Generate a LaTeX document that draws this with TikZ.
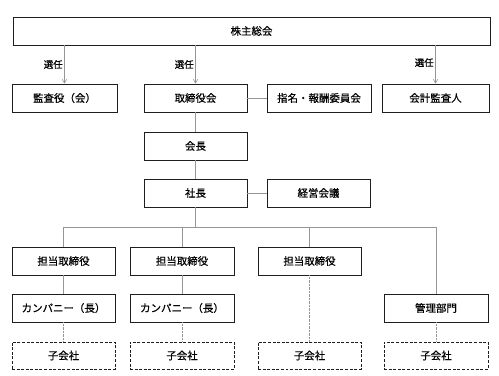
\documentclass[tikz,border=0pt]{standalone}
\usepackage{fontspec}
\newfontfamily\jpfont[FakeBold=0.6]{Noto Sans CJK JP}
\usepackage{tikz}
\usetikzlibrary{arrows.meta,positioning,calc}
\definecolor{linegray}{RGB}{150,150,150}
\definecolor{boxline}{RGB}{30,30,30}
\tikzset{
  orgbox/.style={draw=boxline,line width=0.9pt,fill=white,
    minimum width=103bp,minimum height=28bp,inner sep=0pt,align=center,
    font=\jpfont\fontsize{10.5}{12}\selectfont},
  subbox/.style={orgbox,dashed,dash pattern=on 3pt off 1.6pt,minimum height=27bp},
  selarrow/.style={-{Straight Barb[length=1.3mm,width=1.6mm]},draw=linegray,line width=0.6pt},
  orgline/.style={draw=linegray,line width=0.6pt},
  dotline/.style={draw=linegray,line width=0.6pt,dash pattern=on 0.7pt off 0.7pt},
  sellabel/.style={left,inner sep=1.5pt,font=\jpfont\fontsize{9.5}{11}\selectfont},
}
\begin{document}
\begin{tikzpicture}[x=1bp,y=-1bp]
        \useasboundingbox (0,0) rectangle (499,375);
        % general meeting and boards
        \node[orgbox,minimum width=477bp] (meeting) at (251.5,31) {株主総会};
        \node[orgbox,minimum width=105bp] (auditors) at (64.5,98) {監査役（会）};
        \node[orgbox] (board) at (195.5,98) {取締役会};
        \node[orgbox,minimum width=104bp] (nomination) at (319,98) {指名・報酬委員会};
        \node[orgbox,minimum width=107bp] (accountant) at (435.5,98) {会計監査人};
        \node[orgbox] (chairman) at (195.5,146) {会長};
        \node[orgbox] (president) at (195.5,193) {社長};
        \node[orgbox] (council) at (318.5,193) {経営会議};
        % divisions
        \node[orgbox] (director1) at (63.5,261) {担当取締役};
        \node[orgbox,minimum width=104bp] (director2) at (182,261) {担当取締役};
        \node[orgbox] (director3) at (309.5,261) {担当取締役};
        \node[orgbox] (company1) at (63.5,308) {カンパニー（長）};
        \node[orgbox,minimum width=104bp] (company2) at (182,308) {カンパニー（長）};
        \node[orgbox,minimum width=104bp] (admin) at (436,308) {管理部門};
        \node[subbox] (sub1) at (63.5,355.5) {子会社};
        \node[subbox,minimum width=104bp] (sub2) at (182,355.5) {子会社};
        \node[subbox] (sub3) at (309.5,355.5) {子会社};
        \node[subbox,minimum width=104bp] (sub4) at (436,355.5) {子会社};
        \coordinate (bus) at (0,227);
        % election arrows
        \draw[selarrow] (meeting.south -| auditors) -- node[sellabel] {選任} (auditors);
        \draw[selarrow] (meeting.south -| board) -- node[sellabel] {選任} (board);
        \draw[selarrow] (meeting.south -| accountant) -- node[sellabel,pos=0.45] {選任} (accountant);
        % reporting lines
        \draw[orgline] (board) -- (nomination);
        \draw[orgline] (board) -- (chairman);
        \draw[orgline] (chairman) -- (president);
        \draw[orgline] (president) -- (council);
        \draw[orgline] (president) -- (president |- bus);
        \draw[orgline] (director1 |- bus) -- (admin |- bus);
        \draw[orgline] (director1 |- bus) -- (director1);
        \draw[orgline] (director2 |- bus) -- (director2);
        \draw[orgline] (director3 |- bus) -- (director3);
        \draw[orgline] (admin |- bus) -- (admin);
        \draw[orgline] (director1) -- (company1);
        \draw[orgline] (director2) -- (company2);
        \draw[dotline] (company1) -- (sub1);
        \draw[dotline] (company2) -- (sub2);
        \draw[dotline] (director3) -- (sub3);
        \draw[dotline] (admin) -- (sub4);
      \end{tikzpicture}
\end{document}
